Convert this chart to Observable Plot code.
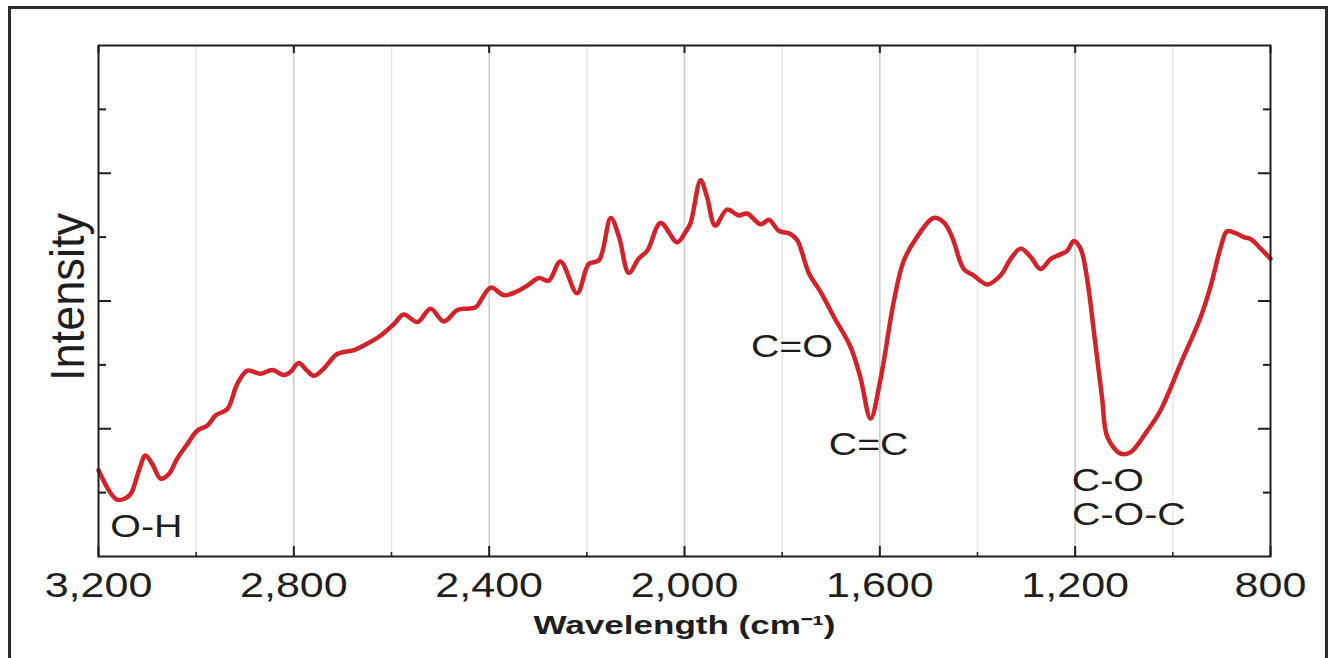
<!DOCTYPE html>
<html><head><meta charset="utf-8">
<script src="https://cdn.jsdelivr.net/npm/d3@7"></script>
<script src="https://cdn.jsdelivr.net/npm/@observablehq/plot@0.6"></script>
<style>
html,body{margin:0;padding:0;overflow:hidden;background:#fff;width:1333px;height:658px}
#frame{position:absolute;left:8px;top:6px;width:1320px;height:670px;border:3px solid #2b2b2b;box-sizing:border-box;pointer-events:none}
#chart{position:absolute;left:0;top:0}
</style></head><body>
<div id="chart"></div><div id="frame"></div>
<script>
const wavenumber = [3200,3175,3162,3148,3134,3117,3104,3090,3073,3056,3039,3018,2998,2977,2960,2936,2916,2895,2868,2844,2821,2807,2790,2773,2759,2739,2711,2677,2650,2622,2595,2575,2547,2520,2493,2465,2445,2428,2397,2370,2343,2322,2298,2278,2254,2220,2196,2175,2151,2134,2114,2094,2076,2049,2015,1998,1988,1967,1954,1937,1913,1889,1872,1844,1827,1807,1783,1769,1745,1721,1694,1660,1640,1619,1599,1571,1551,1524,1490,1469,1452,1428,1408,1380,1353,1332,1312,1291,1271,1250,1230,1216,1203,1189,1175,1162,1145,1134,1107,1087,1052,1025,984,943,923,902,889,868,855,841,820,800];
const intensity = [1.35,0.99,0.89,0.90,0.98,1.35,1.58,1.45,1.22,1.29,1.53,1.76,1.97,2.05,2.21,2.31,2.70,2.91,2.86,2.92,2.84,2.89,3.03,2.91,2.83,2.94,3.17,3.23,3.33,3.46,3.64,3.79,3.67,3.88,3.68,3.86,3.88,3.90,4.21,4.09,4.15,4.24,4.36,4.32,4.62,4.12,4.58,4.64,5.30,5.00,4.44,4.66,4.79,5.22,4.92,5.08,5.21,5.89,5.63,5.18,5.43,5.34,5.37,5.20,5.27,5.10,5.05,4.95,4.43,4.14,3.75,3.28,2.81,2.16,2.76,4.01,4.63,5.00,5.30,5.23,5.00,4.50,4.40,4.26,4.40,4.66,4.82,4.69,4.50,4.66,4.73,4.79,4.94,4.82,4.32,3.54,2.49,1.87,1.61,1.63,1.97,2.29,3.02,3.75,4.22,4.84,5.09,5.05,5.00,4.97,4.82,4.66];
const xTicksMajor = [3200,2800,2400,2000,1600,1200,800];
const xTicksMinor = [3000,2600,2200,1800,1400,1000];
const yTicksMajor = [2,4,6];
const yTicksMinor = [1,3,5,7];
const annotLabels = ["O-H","C=O","C=C","C-O","C-O-C"];
const annotX = [3102,1780,1623,1133,1090];
const annotY = [0.46,3.28,1.75,1.18,0.66];
const xLabel = "Wavelength (cm\u207B\u00B9)";
const yLabel = "Intensity";

const data = wavenumber.map((w, i) => ({w, v: intensity[i]}));
const annots = annotLabels.map((t, i) => ({t, x: annotX[i], y: annotY[i]}));
const ink = "#1e1e1e";
const noText = () => "";

const plot = Plot.plot({
  width: 1333, height: 658,
  marginLeft: 98, marginRight: 63, marginTop: 45, marginBottom: 102,
  style: {fontFamily: "'Liberation Sans', Arial, Helvetica, sans-serif", color: ink, background: "transparent", overflow: "visible"},
  x: {domain: [3200, 800]},
  y: {domain: [0, 8]},
  marks: [
    Plot.ruleX(xTicksMinor, {stroke: "#e6e6e6", strokeWidth: 1.5}),
    Plot.ruleX(xTicksMajor.slice(1, -1), {stroke: "#cacaca", strokeWidth: 1.5}),
    Plot.line(data, {x: "w", y: "v", stroke: "#d2232a", strokeWidth: 4.5, curve: "catmull-rom", strokeLinejoin: "round", strokeLinecap: "round"}),
    Plot.axisX(xTicksMajor, {anchor: "bottom", tickSize: -10, tickPadding: 26, tickFormat: d3.format(","), fontSize: 35, label: null, strokeWidth: 2}),
    Plot.axisX(xTicksMinor, {anchor: "bottom", tickSize: -4, tickFormat: noText, label: null, strokeWidth: 1.5}),
    Plot.axisX(xTicksMajor, {anchor: "top", tickSize: -7, tickFormat: noText, label: null, strokeWidth: 2}),
    Plot.axisY(yTicksMajor, {anchor: "left", tickSize: -13, tickFormat: noText, label: null, strokeWidth: 2}),
    Plot.axisY(yTicksMinor, {anchor: "left", tickSize: -8, tickFormat: noText, label: null, strokeWidth: 2}),
    Plot.axisY(yTicksMajor, {anchor: "right", tickSize: -13, tickFormat: noText, label: null, strokeWidth: 2}),
    Plot.axisY(yTicksMinor, {anchor: "right", tickSize: -8, tickFormat: noText, label: null, strokeWidth: 2}),
    Plot.frame({stroke: ink, strokeWidth: 2}),
    Plot.text(annots, {x: "x", y: "y", text: "t", fontSize: 32, fill: ink}),
    Plot.text([xLabel], {text: d => d, frameAnchor: "bottom", dy: 60, lineAnchor: "top", textAnchor: "middle", fontSize: 25, fontWeight: "bold", fill: ink}),
    Plot.text([yLabel], {text: d => d, frameAnchor: "left", dx: -30, dy: -4, rotate: -90, textAnchor: "middle", lineAnchor: "middle", fontSize: 48, fill: ink})
  ]
});
document.getElementById("chart").append(plot);

// horizontal stretch of the lettering, as in the reference
plot.querySelectorAll("text").forEach(t => {
  const s = t.textContent;
  if (!s) return;
  const w = t.getComputedTextLength();
  if (!w) return;
  let target = w * 1.23;
  if (s === xLabel) target = 302;
  if (s === yLabel) target = 168;
  t.setAttribute("textLength", target.toFixed(1));
  t.setAttribute("lengthAdjust", "spacingAndGlyphs");
});
</script>
</body></html>
